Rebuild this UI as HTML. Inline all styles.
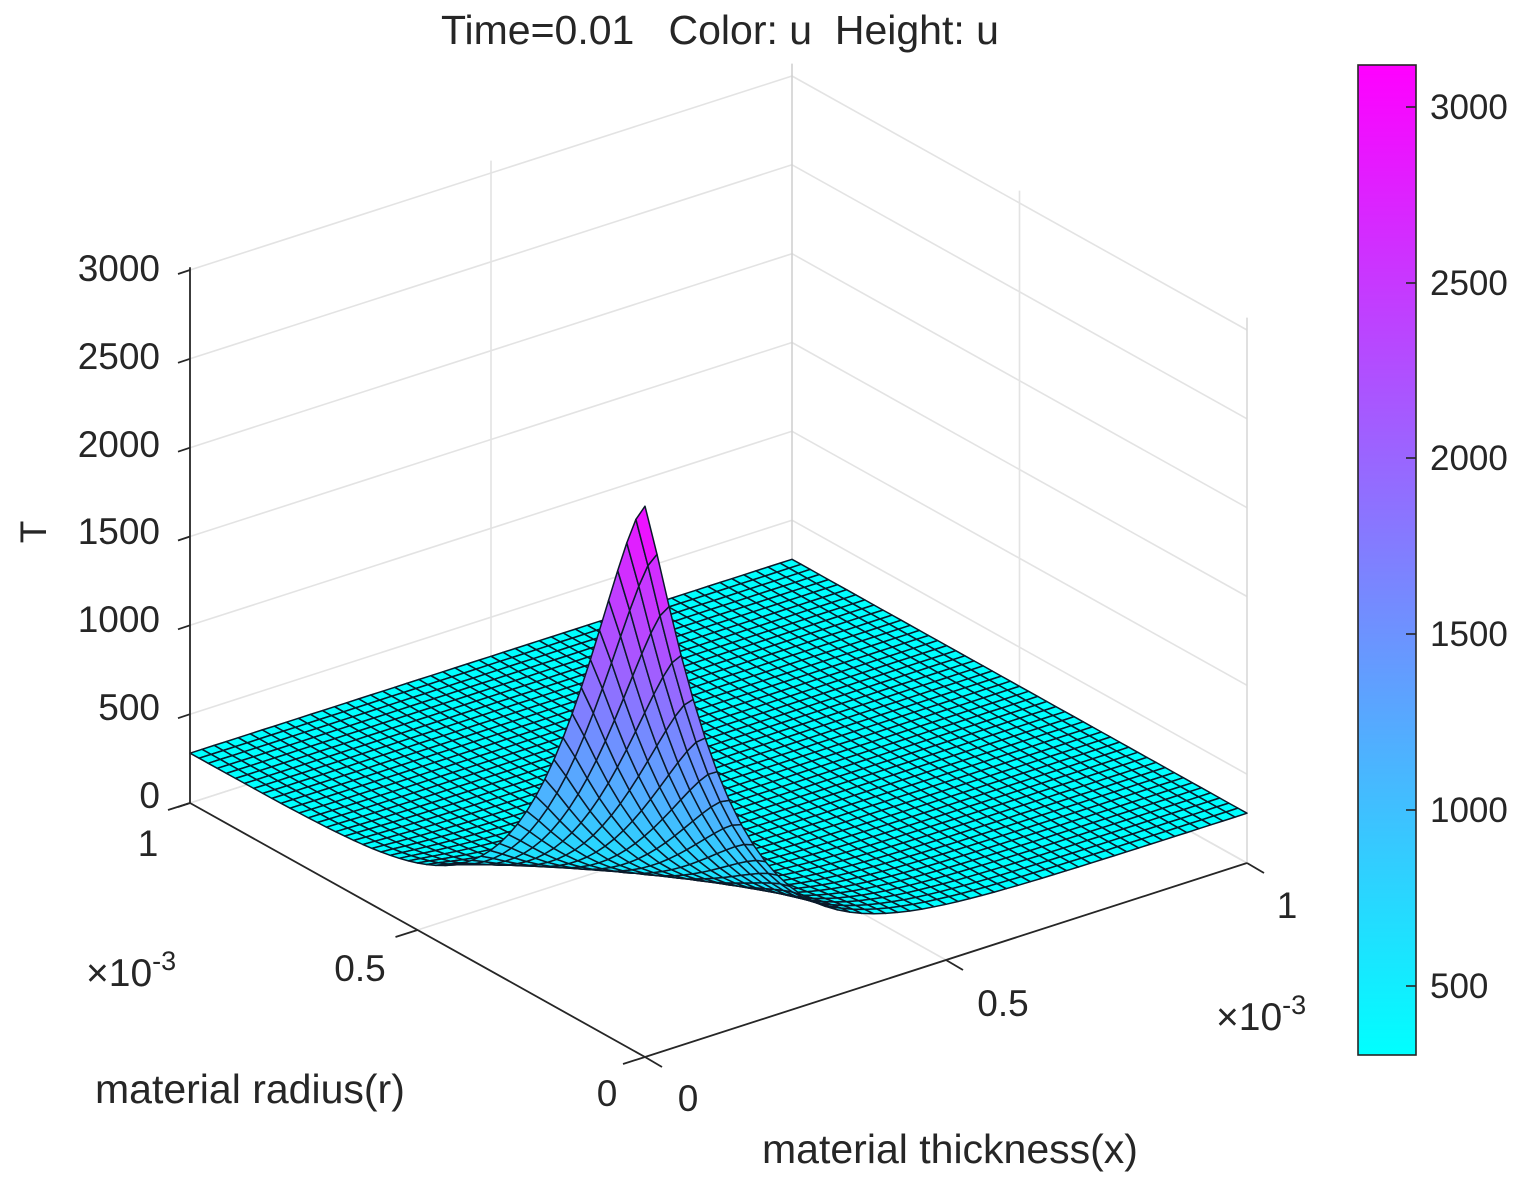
<!DOCTYPE html>
<html><head><meta charset="utf-8"><style>
html,body{margin:0;padding:0;background:#fff;}
svg{display:block;}
text{font-family:"Liberation Sans",Arial,sans-serif;fill:#262626;white-space:pre;}
</style></head><body>
<svg id="s" width="1520" height="1184" viewBox="0 0 1520 1184" xmlns="http://www.w3.org/2000/svg">
<defs>
<linearGradient id="cb" x1="0" y1="1" x2="0" y2="0">
<stop offset="0" stop-color="#00ffff"/><stop offset="1" stop-color="#ff00ff"/>
</linearGradient>
</defs>
<rect width="1520" height="1184" fill="#fff"/>
<g id="grid" stroke="#e3e3e3" stroke-width="1.6" fill="none"></g>
<g id="surf" stroke="#0a1a2a" stroke-width="1.5" stroke-linejoin="round"></g>
<g id="axes" stroke="#262626" stroke-width="1.8" fill="none"></g>
<text x="720" y="44" font-size="41" text-anchor="middle" xml:space="preserve">Time=0.01   Color: u  Height: u</text>
<g font-size="37" text-anchor="end">
<text x="160" y="281">3000</text>
<text x="160" y="369">2500</text>
<text x="160" y="457">2000</text>
<text x="160" y="544">1500</text>
<text x="160" y="632">1000</text>
<text x="160" y="720">500</text>
<text x="160" y="808">0</text>
</g>
<text font-size="37" transform="translate(46,532) rotate(-90)" text-anchor="middle">T</text>
<g font-size="37" text-anchor="middle">
<text x="148" y="856">1</text>
<text x="360" y="981">0.5</text>
<text x="607" y="1106">0</text>
<text x="688" y="1111">0</text>
<text x="1003" y="1016">0.5</text>
<text x="1287" y="918">1</text>
</g>
<text x="86" y="986" font-size="39">×10<tspan font-size="27" dy="-16">-3</tspan></text>
<text x="1216" y="1030" font-size="39">×10<tspan font-size="27" dy="-16">-3</tspan></text>
<text x="95" y="1103" font-size="41">material radius(r)</text>
<text x="950" y="1163" font-size="41" text-anchor="middle">material thickness(x)</text>
<rect x="1358" y="65" width="58" height="990" fill="url(#cb)" stroke="#262626" stroke-width="1.6"/>
<g stroke="#262626" stroke-width="1.6">
<line x1="1406" y1="107" x2="1416" y2="107"/><line x1="1406" y1="283" x2="1416" y2="283"/>
<line x1="1406" y1="458" x2="1416" y2="458"/><line x1="1406" y1="634" x2="1416" y2="634"/>
<line x1="1406" y1="810" x2="1416" y2="810"/><line x1="1406" y1="986" x2="1416" y2="986"/>
</g>
<g font-size="35">
<text x="1430" y="119">3000</text><text x="1430" y="295">2500</text>
<text x="1430" y="470">2000</text><text x="1430" y="646">1500</text>
<text x="1430" y="822">1000</text><text x="1430" y="998">500</text>
</g>
</svg>
<script>
(function(){
var NS="http://www.w3.org/2000/svg";
var O=[645,1057], X=[602,-194], R=[-455,-254], ZS=533/3000;
function P(x,r,z){return [O[0]+x*X[0]+r*R[0], O[1]+x*X[1]+r*R[1]-z*ZS];}
function ln(g,a,b,extra){var l=document.createElementNS(NS,"line");l.setAttribute("x1",a[0].toFixed(1));l.setAttribute("y1",a[1].toFixed(1));l.setAttribute("x2",b[0].toFixed(1));l.setAttribute("y2",b[1].toFixed(1));if(extra)for(var k in extra)l.setAttribute(k,extra[k]);g.appendChild(l);}
var G=document.getElementById("grid");
var ZT=3070;
for(var z=0;z<=3000;z+=500){ln(G,P(0,1,z),P(1,1,z));ln(G,P(1,1,z),P(1,0,z));}
ln(G,P(0.5,1,0),P(0.5,1,ZT));ln(G,P(1,0.5,0),P(1,0.5,ZT));
ln(G,P(1,1,0),P(1,1,ZT),{stroke:"#d0d0d0"});ln(G,P(1,0,0),P(1,0,ZT),{stroke:"#d8d8d8"});
ln(G,P(0.5,0,0),P(0.5,1,0));ln(G,P(0,0.5,0),P(1,0.5,0));
ln(G,P(0,1,0),P(1,1,0));ln(G,P(1,1,0),P(1,0,0));
var S=document.getElementById("surf");
var N=50;
function u(x,r){return 280+2820*Math.exp(-Math.pow(x/0.137,1.15))*Math.exp(-Math.pow(r/0.21,1.4));}
var V=[];for(var i=0;i<=N;i++){V[i]=[];for(var j=0;j<=N;j++){var x=i/N,r=j/N;V[i][j]=[x,r,u(x,r)];}}
var faces=[];
for(var i=0;i<N;i++)for(var j=0;j<N;j++){
 var a=V[i][j],b=V[i+1][j],c=V[i+1][j+1],d=V[i][j+1];
 var cx=(i+0.5)/N, cr=(j+0.5)/N;
 var zc=(a[2]+b[2]+c[2]+d[2])/4;
 faces.push({pts:[a,b,c,d],depth:455*cx+603*cr,z:zc});
}
faces.sort(function(p,q){return q.depth-p.depth;});
var html="";
for(var k=0;k<faces.length;k++){
 var f=faces[k];var s="";
 for(var m=0;m<4;m++){var p=P(f.pts[m][0],f.pts[m][1],f.pts[m][2]);s+=p[0].toFixed(1)+","+p[1].toFixed(1)+" ";}
 var t=(f.z-304)/(3119-304);t=Math.max(0,Math.min(1,t));
 var col="rgb("+Math.round(255*t)+","+Math.round(255*(1-t))+",255)";
 html+='<polygon points="'+s+'" fill="'+col+'"/>';
}
S.innerHTML=html;
var A=document.getElementById("axes");
ln(A,P(0,1,0),P(0,1,3015));
ln(A,P(0,1,0),P(0,0,0));ln(A,P(0,0,0),P(1,0,0));
for(var z=0;z<=3000;z+=500){var p=P(0,1,z);ln(A,p,[p[0]-12,p[1]+4]);}
[0,0.5,1].forEach(function(r){var p=P(0,r,0);ln(A,p,[p[0]-22,p[1]+7]);});
[0,0.5,1].forEach(function(x){var p=P(x,0,0);ln(A,p,[p[0]+17,p[1]+10]);});
})();
</script>
</body></html>
